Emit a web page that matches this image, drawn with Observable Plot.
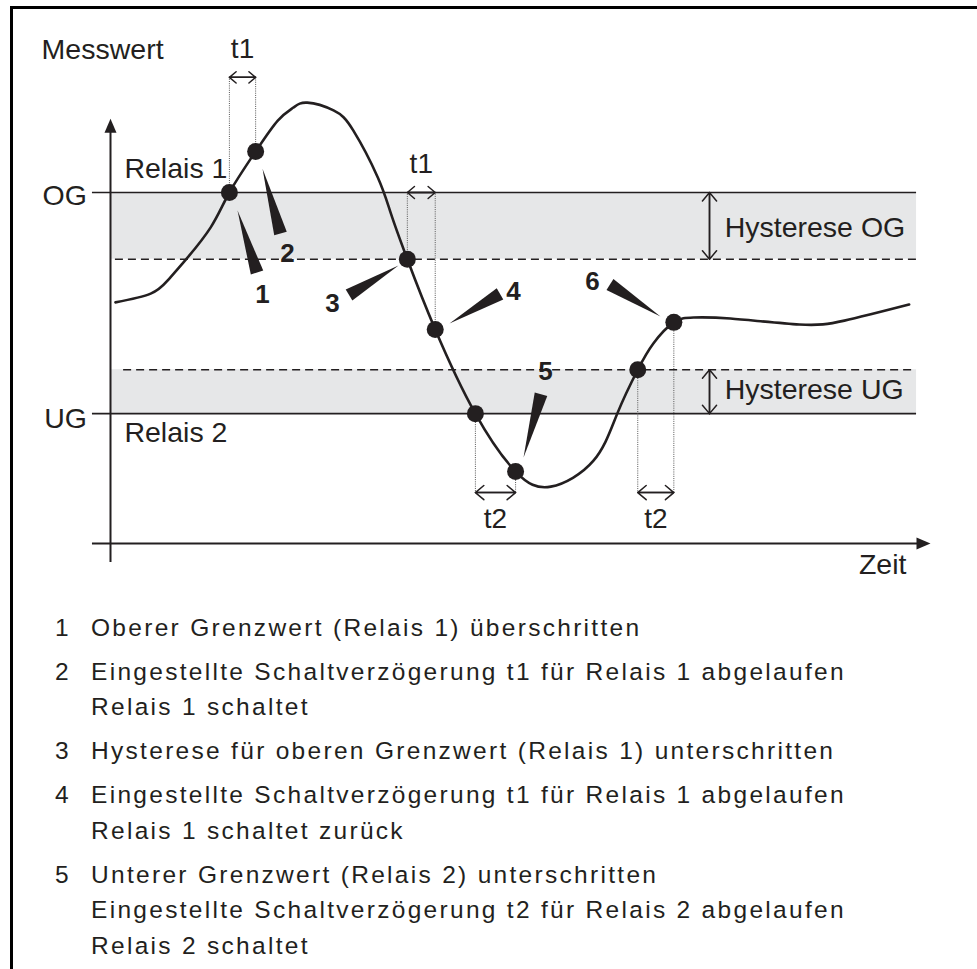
<!DOCTYPE html>
<html><head><meta charset="utf-8">
<script src="https://cdn.jsdelivr.net/npm/d3@7"></script>
<script src="https://cdn.jsdelivr.net/npm/@observablehq/plot@0.6"></script>
<style>
html,body{margin:0;padding:0;background:#fff;width:977px;height:969px;overflow:hidden;font-family:"Liberation Sans",Arial,Helvetica,sans-serif;color:#231f20;}
#chart{position:absolute;left:0;top:0;}
#frame{position:absolute;left:10px;top:6px;width:970px;height:980px;border-top:3px solid #000;border-left:3px solid #000;pointer-events:none;}
#legend{position:absolute;left:55px;top:609.6px;font-size:24.5px;line-height:35.5px;letter-spacing:2.3px;white-space:nowrap;}
.item{display:flex;margin-top:8.5px}
.item:first-child{margin-top:0}
.num{width:36px;flex:none;letter-spacing:0}
</style></head><body>
<div id="chart"></div>
<div id="legend"></div>
<div id="frame"></div>
<script>
// ---- data (time in arbitrary units 0..100, measured value: UG/OG scale) ----
const curveTime  = [0.6, 4.9, 6.95, 8.9, 12.2, 14.5, 17.7, 20.4, 22.3, 24.0, 27.2, 29.6, 32.6, 34.2, 36.2, 39.6, 44.5, 49.4, 53.7, 58.9, 61.8, 64.3, 66.2, 68.7, 71.1, 75.6, 84.0, 89.5, 97.4];
const curveValue = [68.7, 71.2, 74.9, 80.1, 90.0, 100, 111.7, 120.5, 124.2, 125.6, 123.4, 117.7, 104.3, 94.0, 81, 61.0, 37.0, 20.5, 16.2, 23.6, 37.0, 49.5, 57.0, 63.0, 64.4, 64.1, 62.4, 63.5, 68.1];

const pointTime  = [14.5, 17.7, 36.2, 39.6, 44.5, 49.4, 64.3, 68.7];
const pointValue = [100, 111.7, 81, 61.0, 37.0, 20.5, 49.5, 63.0];

const limitName  = ["OG", "UG"];
const limitValue = [100, 37];
const hystBound  = [81, 49.5];
const hystName   = ["Hysterese OG", "Hysterese UG"];
const relaisName = ["Relais 1", "Relais 2"];

const delayName  = ["t1", "t1", "t2", "t2"];
const delayFrom  = [0, 2, 4, 6];
const delayTo    = [1, 3, 5, 7];
const delayLevel = [132.8, 100, 14.5, 14.5];
const delayLabelValue = [141, 108, 7.1, 7.1];

const markerLabel      = ["1", "2", "3", "4", "5", "6"];
const markerLabelTime  = [18.54, 21.59, 27.07, 49.15, 53.05, 58.78];
const markerLabelValue = [71.0, 82.6, 68.4, 71.8, 49.0, 74.6];
const markerTipTime    = [15.49, 18.54, 35.12, 41.34, 50.37, 67.07];
const markerTipValue   = [94.9, 106.8, 79.2, 62.7, 24.5, 64.7];
const markerBaseTime   = [17.87, 20.73, 29.09, 47.5, 52.5, 60.91];
const markerBaseValue  = [77.2, 88.3, 70.8, 71.1, 42.5, 73.8];

const axisNames = ["Messwert", "Zeit"];

const legendNumbers = ["1", "2", "3", "4", "5"];
const legendTexts = [
  ["Oberer Grenzwert (Relais 1) überschritten"],
  ["Eingestellte Schaltverzögerung t1 für Relais 1 abgelaufen", "Relais 1 schaltet"],
  ["Hysterese für oberen Grenzwert (Relais 1) unterschritten"],
  ["Eingestellte Schaltverzögerung t1 für Relais 1 abgelaufen", "Relais 1 schaltet zurück"],
  ["Unterer Grenzwert (Relais 2) unterschritten", "Eingestellte Schaltverzögerung t2 für Relais 2 abgelaufen", "Relais 2 schaltet"]
];

// ---- derived tables ----
const X = {domain: [0, 100], range: [110, 930]};
const Y = {domain: [0, 100], range: [543, 192]};
const xs = d3.scaleLinear(X.domain, X.range), ys = d3.scaleLinear(Y.domain, Y.range);

const lineStart = -2.2, lineEnd = 98.3;
const ink = "#231f20";
const font = "Liberation Sans, Arial, Helvetica, sans-serif";

const curve = curveTime.map((t, i) => ({t, v: curveValue[i]}));
const points = pointTime.map((t, i) => ({t, v: pointValue[i]}));
const limits = limitValue.map((v, i) => ({v, a: lineStart, b: lineEnd}));
const hystLines = hystBound.map((v, i) => ({v, a: i === 0 ? 0.6 : 1.6, b: lineEnd}));
const bands = limitValue.map((v, i) => ({a: 0, b: lineEnd, v1: Math.min(v, hystBound[i]), v2: Math.max(v, hystBound[i])}));
const hystArrows = bands.map((d, i) => ({t: 73.05, lo: d.v1, hi: d.v2}));
const hystLabels = hystName.map((name, i) => ({name, t: 74.9, v: [90.0, 43.9][i]}));
const limitLabels = limitName.map((name, i) => ({name, t: -2.87, v: [99.1, 35.6][i]}));
const relaisLabels = relaisName.map((name, i) => ({name, t: 1.7, v: [106.8, 31.6][i]}));

const delays = delayName.map((name, i) => ({
  name, a: pointTime[delayFrom[i]], b: pointTime[delayTo[i]], lev: delayLevel[i],
  mid: (pointTime[delayFrom[i]] + pointTime[delayTo[i]]) / 2, lv: delayLabelValue[i]
}));
const guides = delays.flatMap((d, i) => [
  {t: d.a, v1: pointValue[delayFrom[i]], v2: d.lev},
  {t: d.b, v1: pointValue[delayTo[i]], v2: d.lev}
]);

const markers = markerLabel.map((label, i) => {
  const bx = xs(markerBaseTime[i]), by = ys(markerBaseValue[i]);
  const tx = xs(markerTipTime[i]), ty = ys(markerTipValue[i]);
  return {label, t: markerBaseTime[i], v: markerBaseValue[i],
    len: Math.hypot(tx - bx, ty - by),
    rot: Math.atan2(tx - bx, -(ty - by)) * 180 / Math.PI,
    lt: markerLabelTime[i], lv: markerLabelValue[i]};
});

const axes = {x: {v: 0, a: lineStart, b: 99.4}, y: {t: 0, a: -5.4, b: 117.5}};
const arrowTips = [{t: 100, v: 0, rot: 90}, {t: 0, v: 121, rot: 0}];
const axisLabels = [
  {name: axisNames[0], t: -8.4, v: 140.7, anchor: "start"},
  {name: axisNames[1], t: 97.07, v: -6.0, anchor: "end"}
];
const tri = {draw(ctx) { ctx.moveTo(0, 0); ctx.lineTo(-6, 14); ctx.lineTo(6, 14); ctx.closePath(); }};

const chart = Plot.plot({
  width: 977, height: 600, margin: 0,
  x: {...X, axis: null},
  y: {...Y, axis: null},
  style: {background: "transparent", fontFamily: font, color: ink},
  marks: [
    Plot.rect(bands, {x1: "a", x2: "b", y1: "v1", y2: "v2", fill: "#e6e7e8"}),
    Plot.ruleY(hystLines, {y: "v", x1: "a", x2: "b", stroke: ink, strokeWidth: 1.5, strokeDasharray: "8,5"}),
    Plot.ruleY(limits, {y: "v", x1: "a", x2: "b", stroke: ink, strokeWidth: 1.6}),
    Plot.ruleX(guides, {x: "t", y1: "v1", y2: "v2", stroke: "#555", strokeWidth: 1, strokeDasharray: "1,1.2"}),
    Plot.arrow(delays, {x1: "a", x2: "b", y1: "lev", y2: "lev", stroke: ink, strokeWidth: 1.5, headLength: 11, headAngle: 80}),
    Plot.arrow(delays, {x1: "b", x2: "a", y1: "lev", y2: "lev", stroke: ink, strokeWidth: 1.5, headLength: 11, headAngle: 80}),
    Plot.arrow(hystArrows, {x1: "t", x2: "t", y1: "lo", y2: "hi", stroke: ink, strokeWidth: 1.5, headLength: 11, headAngle: 80}),
    Plot.arrow(hystArrows, {x1: "t", x2: "t", y1: "hi", y2: "lo", stroke: ink, strokeWidth: 1.5, headLength: 11, headAngle: 80}),
    Plot.ruleY([axes.x], {y: "v", x1: "a", x2: "b", stroke: ink, strokeWidth: 2}),
    Plot.ruleX([axes.y], {x: "t", y1: "a", y2: "b", stroke: ink, strokeWidth: 2}),
    Plot.dot(arrowTips, {x: "t", y: "v", rotate: "rot", symbol: tri, r: 3, fill: ink, stroke: "none"}),
    Plot.line(curve, {x: "t", y: "v", curve: "natural", stroke: ink, strokeWidth: 2.6}),
    Plot.dot(points, {x: "t", y: "v", r: 8.5, fill: ink, stroke: "none"}),
    ...markers.map(m => Plot.vector([m], {x: "t", y: "v", length: m.len, rotate: m.rot, r: 6.5, shape: "spike", anchor: "start", fill: ink, stroke: "none"})),
    Plot.text(markers, {x: "lt", y: "lv", text: "label", fontSize: 26, fontWeight: "bold", fill: ink, textAnchor: "middle"}),
    Plot.text(delays, {x: "mid", y: "lv", text: "name", fontSize: 28, fill: ink, textAnchor: "middle"}),
    Plot.text(hystLabels, {x: "t", y: "v", text: "name", fontSize: 28.5, fill: ink, textAnchor: "start"}),
    Plot.text(limitLabels, {x: "t", y: "v", text: "name", fontSize: 28.5, fill: ink, textAnchor: "end"}),
    Plot.text(relaisLabels, {x: "t", y: "v", text: "name", fontSize: 28.5, fill: ink, textAnchor: "start"}),
    Plot.text(axisLabels.filter(d => d.anchor === "start"), {x: "t", y: "v", text: "name", fontSize: 28.5, fill: ink, textAnchor: "start"}),
    Plot.text(axisLabels.filter(d => d.anchor === "end"), {x: "t", y: "v", text: "name", fontSize: 28.5, fill: ink, textAnchor: "end"})
  ]
});
document.getElementById("chart").append(chart);

const legend = d3.select("#legend");
legendNumbers.forEach((n, i) => {
  const item = legend.append("div").attr("class", "item");
  item.append("div").attr("class", "num").text(n);
  const body = item.append("div");
  legendTexts[i].forEach(line => body.append("div").text(line));
});
</script>
</body></html>
